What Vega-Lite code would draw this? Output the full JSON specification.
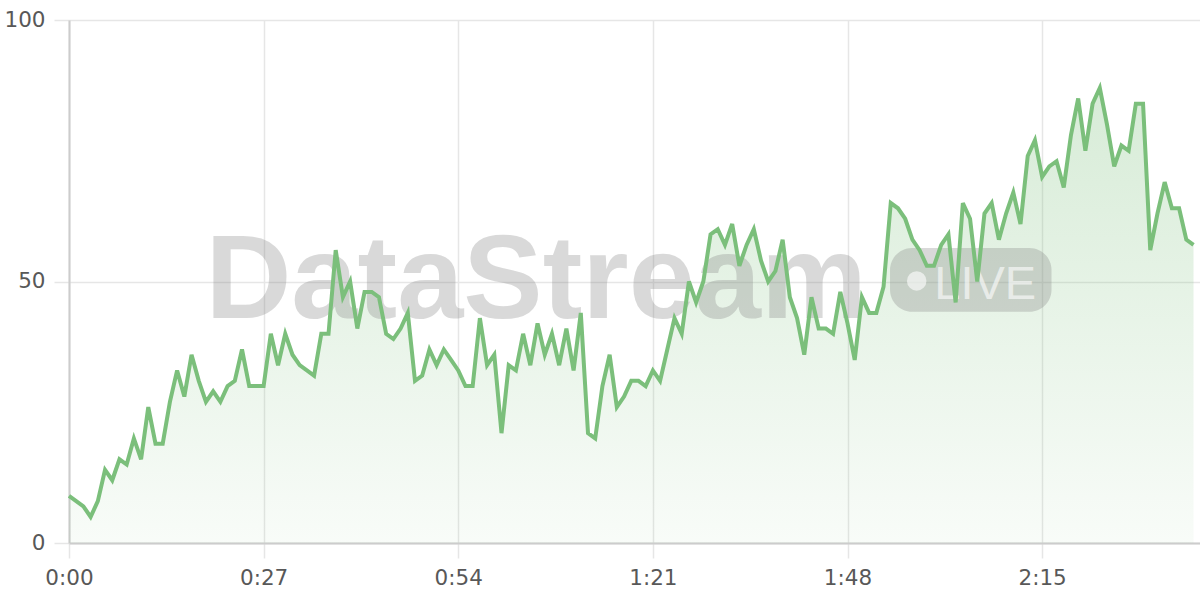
{
  "$schema": "https://vega.github.io/schema/vega-lite/v6.json",
  "width": 1131,
  "height": 523,
  "autosize": {"type": "none"},
  "padding": {"left": 69, "top": 20, "right": 0, "bottom": 57},
  "background": "#ffffff",
  "config": {
    "view": {"stroke": null},
    "font": "DejaVu Sans",
    "axis": {
      "labelFont": "DejaVu Sans",
      "labelFontSize": 21.5,
      "labelColor": "#585858",
      "grid": true,
      "gridColor": "#e6e6e6",
      "gridWidth": 1.5,
      "domain": true,
      "domainColor": "#cccccc",
      "domainWidth": 2,
      "tickColor": "#e6e6e6",
      "tickSize": 15,
      "tickWidth": 1.5,
      "labelPadding": 9,
      "labelFlush": false,
      "labelOverlap": false,
      "title": null
    }
  },
  "data": {
    "values": [
      {"t":0,"v":9},{"t":1,"v":8},{"t":2,"v":7},{"t":3,"v":5},{"t":4,"v":8},{"t":5,"v":14},{"t":6,"v":12},{"t":7,"v":16},{"t":8,"v":15},{"t":9,"v":20},
      {"t":10,"v":16},{"t":11,"v":26},{"t":12,"v":19},{"t":13,"v":19},{"t":14,"v":27},{"t":15,"v":33},{"t":16,"v":28},{"t":17,"v":36},{"t":18,"v":31},{"t":19,"v":27},
      {"t":20,"v":29},{"t":21,"v":27},{"t":22,"v":30},{"t":23,"v":31},{"t":24,"v":37},{"t":25,"v":30},{"t":26,"v":30},{"t":27,"v":30},{"t":28,"v":40},{"t":29,"v":34},
      {"t":30,"v":40},{"t":31,"v":36},{"t":32,"v":34},{"t":33,"v":33},{"t":34,"v":32},{"t":35,"v":40},{"t":36,"v":40},{"t":37,"v":56},{"t":38,"v":47},{"t":39,"v":50},
      {"t":40,"v":41},{"t":41,"v":48},{"t":42,"v":48},{"t":43,"v":47},{"t":44,"v":40},{"t":45,"v":39},{"t":46,"v":41},{"t":47,"v":44},{"t":48,"v":31},{"t":49,"v":32},
      {"t":50,"v":37},{"t":51,"v":34},{"t":52,"v":37},{"t":53,"v":35},{"t":54,"v":33},{"t":55,"v":30},{"t":56,"v":30},{"t":57,"v":43},{"t":58,"v":34},{"t":59,"v":36},
      {"t":60,"v":21},{"t":61,"v":34},{"t":62,"v":33},{"t":63,"v":40},{"t":64,"v":34},{"t":65,"v":42},{"t":66,"v":36},{"t":67,"v":40},{"t":68,"v":34},{"t":69,"v":41},
      {"t":70,"v":33},{"t":71,"v":44},{"t":72,"v":21},{"t":73,"v":20},{"t":74,"v":30},{"t":75,"v":36},{"t":76,"v":26},{"t":77,"v":28},{"t":78,"v":31},{"t":79,"v":31},
      {"t":80,"v":30},{"t":81,"v":33},{"t":82,"v":31},{"t":83,"v":37},{"t":84,"v":43},{"t":85,"v":40},{"t":86,"v":50},{"t":87,"v":46},{"t":88,"v":50},{"t":89,"v":59},
      {"t":90,"v":60},{"t":91,"v":57},{"t":92,"v":61},{"t":93,"v":53},{"t":94,"v":57},{"t":95,"v":60},{"t":96,"v":54},{"t":97,"v":50},{"t":98,"v":52},{"t":99,"v":58},
      {"t":100,"v":47},{"t":101,"v":43},{"t":102,"v":36},{"t":103,"v":47},{"t":104,"v":41},{"t":105,"v":41},{"t":106,"v":40},{"t":107,"v":48},{"t":108,"v":42},{"t":109,"v":35},
      {"t":110,"v":47},{"t":111,"v":44},{"t":112,"v":44},{"t":113,"v":49},{"t":114,"v":65},{"t":115,"v":64},{"t":116,"v":62},{"t":117,"v":58},{"t":118,"v":56},{"t":119,"v":53},
      {"t":120,"v":53},{"t":121,"v":57},{"t":122,"v":59},{"t":123,"v":46},{"t":124,"v":65},{"t":125,"v":62},{"t":126,"v":50},{"t":127,"v":63},{"t":128,"v":65},{"t":129,"v":58},
      {"t":130,"v":63},{"t":131,"v":67},{"t":132,"v":61},{"t":133,"v":74},{"t":134,"v":77},{"t":135,"v":70},{"t":136,"v":72},{"t":137,"v":73},{"t":138,"v":68},{"t":139,"v":78},
      {"t":140,"v":85},{"t":141,"v":75},{"t":142,"v":84},{"t":143,"v":87},{"t":144,"v":80},{"t":145,"v":72},{"t":146,"v":76},{"t":147,"v":75},{"t":148,"v":84},{"t":149,"v":84},
      {"t":150,"v":56},{"t":151,"v":63},{"t":152,"v":69},{"t":153,"v":64},{"t":154,"v":64},{"t":155,"v":58},{"t":156,"v":57}
    ]
  },
  "layer": [
    {
      "mark": {
        "type": "area",
        "color": {
          "gradient": "linear",
          "x1": 0, "y1": 0, "x2": 0, "y2": 1,
          "stops": [
            {"offset": 0, "color": "rgba(123,191,123,0.30)"},
            {"offset": 1, "color": "rgba(123,191,123,0.05)"}
          ]
        }
      },
      "encoding": {
        "x": {
          "field": "t", "type": "quantitative",
          "scale": {"domain": [0, 156.9], "nice": false, "zero": false},
          "axis": {
            "values": [0, 27, 54, 81, 108, 135],
            "labelExpr": "floor(datum.value/60) + ':' + (datum.value % 60 < 10 ? '0' : '') + (datum.value % 60)"
          }
        },
        "y": {
          "field": "v", "type": "quantitative",
          "scale": {"domain": [0, 100], "nice": false},
          "axis": {"values": [0, 50, 100]}
        }
      }
    },
    {
      "data": {"values": [{"label": "badge"}]},
      "mark": {"type": "rect", "fill": "#808080", "fillOpacity": 0.3, "cornerRadius": 22},
      "encoding": {
        "x": {"datum": 113.9, "type": "quantitative"},
        "x2": {"datum": 136.3},
        "y": {"datum": 56.4, "type": "quantitative"},
        "y2": {"datum": 44.2}
      }
    },
    {
      "data": {"values": [{"label": "DataStream"}]},
      "mark": {"type": "text", "font": "Liberation Sans", "fontWeight": "bold", "fontSize": 119, "fill": "#808080", "fillOpacity": 0.3, "align": "center", "baseline": "alphabetic"},
      "encoding": {
        "x": {"datum": 64.8, "type": "quantitative"},
        "y": {"datum": 43.0, "type": "quantitative"},
        "text": {"field": "label"}
      }
    },
    {
      "data": {"values": [{"label": "LIVE"}]},
      "mark": {"type": "text", "font": "Liberation Sans", "fontSize": 47, "fill": "#ffffff", "fillOpacity": 0.6, "align": "center", "baseline": "alphabetic"},
      "encoding": {
        "x": {"datum": 127.1, "type": "quantitative"},
        "y": {"datum": 46.7, "type": "quantitative"},
        "text": {"field": "label"}
      }
    },
    {
      "data": {"values": [{"label": "dot"}]},
      "mark": {"type": "point", "shape": "circle", "filled": true, "fill": "#ffffff", "fillOpacity": 0.6, "size": 380, "strokeWidth": 0},
      "encoding": {
        "x": {"datum": 117.6, "type": "quantitative"},
        "y": {"datum": 50.1, "type": "quantitative"}
      }
    },
    {
      "mark": {"type": "line", "color": "#7bbf7b", "strokeWidth": 4, "strokeJoin": "miter"},
      "encoding": {
        "x": {"field": "t", "type": "quantitative"},
        "y": {"field": "v", "type": "quantitative"}
      }
    }
  ]
}
